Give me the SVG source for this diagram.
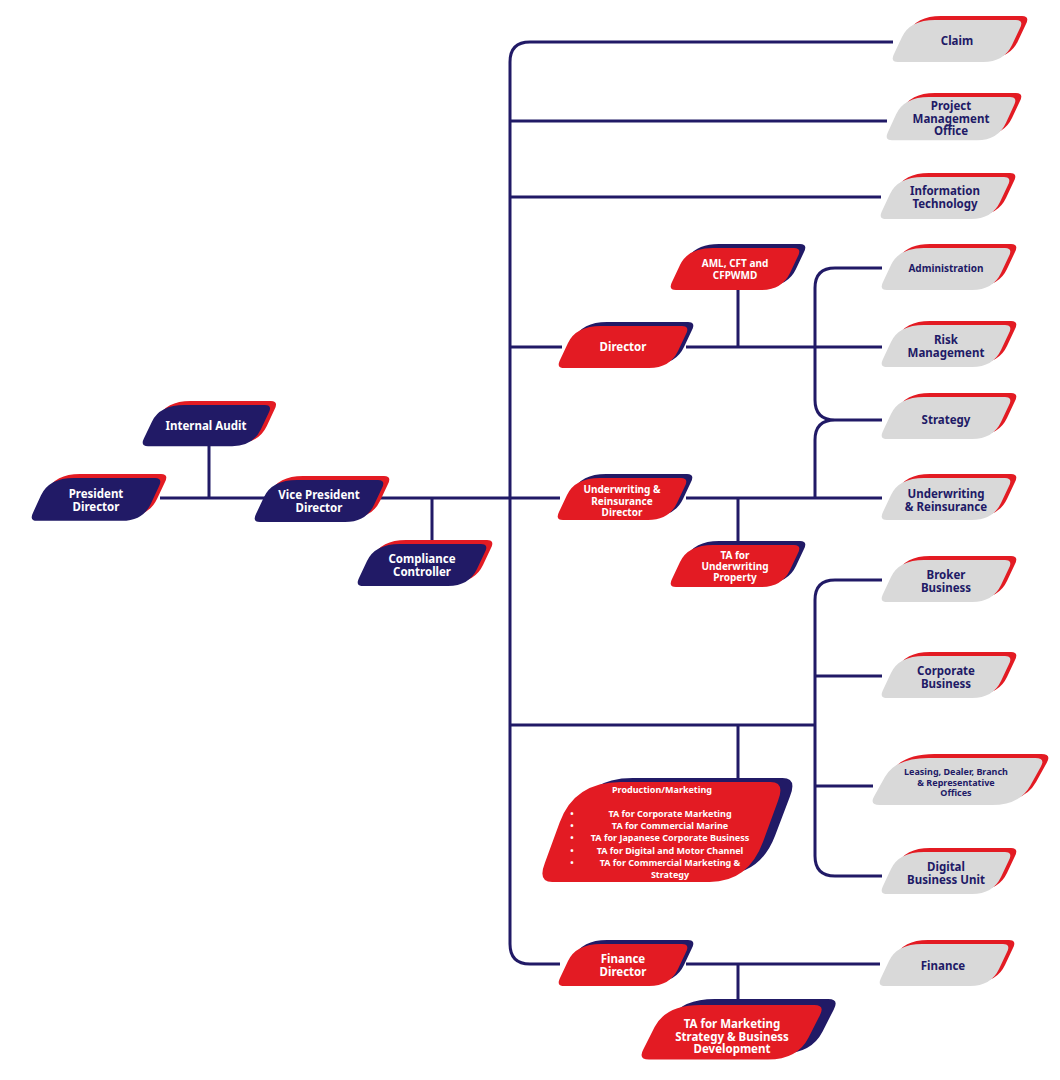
<svg xmlns="http://www.w3.org/2000/svg" xmlns:xlink="http://www.w3.org/1999/xlink" width="1060" height="1080" viewBox="0 0 1060 1080">
<style>
.n{fill:#211A66}.r{fill:#E31B23}.g{fill:#D9D9D9}
text{font-family:"Noto Sans","Open Sans",sans-serif;font-weight:bold;font-size:11.5px;text-anchor:middle}
.tw{fill:#fff}.tn{fill:#211A66}
text.s{font-size:10px}
text.xs{font-size:9px}
#conn path{fill:none;stroke:#211A66;stroke-width:3}
</style>
<defs>
<path id="sh" d="M42 0H123Q131 0 127 8L119 25Q111 42 90 42H5Q-3 42 1 34L9 17Q17 0 42 0Z"/>
</defs>
<rect width="1060" height="1080" fill="#fff"/>
<g id="conn">
<path d="M160 498H560M209 446V498M432 498V544"/>
<path d="M893 42H530Q510 42 510 62V944Q510 964 530 964H560"/>
<path d="M510 121H887M510 197H881M510 347H562M686 347H882M738 290V347"/>
<path d="M882 268H835Q815 268 815 288V400Q815 420 835 420H882M835 420Q815 420 815 440V498"/>
<path d="M686 498H882M738 498V545"/>
<path d="M882 580H835Q815 580 815 600V856Q815 876 835 876H882M815 676H882M815 786H873M510 725H815M738 725V782"/>
<path d="M686 964H880M738 964V1005"/>
</g>
<g id="internal-audit"><use href="#sh" class="r" transform="translate(149 401) scale(0.99 1)"/><use href="#sh" class="n" transform="translate(143 405) scale(0.99 0.98)"/><text class="tw" x="206" y="430">Internal Audit</text></g>
<g id="president"><use href="#sh" class="r" transform="translate(38 474) scale(1 1)"/><use href="#sh" class="n" transform="translate(32 478) scale(1 1.02)"/><text class="tw" x="96" y="498">President<tspan x="96" dy="13">Director</tspan></text></g>
<g id="vp"><use href="#sh" class="r" transform="translate(261 476)"/><use href="#sh" class="n" transform="translate(255 480)"/><text class="tw" x="319" y="499">Vice President<tspan x="319" dy="13">Director</tspan></text></g>
<g id="compliance"><use href="#sh" class="r" transform="translate(364 540)"/><use href="#sh" class="n" transform="translate(358 544)"/><text class="tw" x="422" y="563">Compliance<tspan x="422" dy="13">Controller</tspan></text></g>
<g id="claim"><use href="#sh" class="r" transform="translate(899 16)"/><use href="#sh" class="g" transform="translate(893 20)"/><text class="tn" x="957" y="45">Claim</text></g>
<g id="pmo"><use href="#sh" class="r" transform="translate(893 93)"/><use href="#sh" class="g" transform="translate(887 97) scale(1 1.03)"/><text class="tn" x="951" y="110">Project<tspan x="951" dy="12.5">Management</tspan><tspan x="951" dy="12.5">Office</tspan></text></g>
<g id="it"><use href="#sh" class="r" transform="translate(887 173)"/><use href="#sh" class="g" transform="translate(881 177)"/><text class="tn" x="945" y="195">Information<tspan x="945" dy="12.5">Technology</tspan></text></g>
<g id="aml"><use href="#sh" class="n" transform="translate(677 244)"/><use href="#sh" class="r" transform="translate(671 248)"/><text class="tw s" x="735" y="267">AML, CFT and<tspan x="735" dy="12">CFPWMD</tspan></text></g>
<g id="director"><use href="#sh" class="n" transform="translate(565 322)"/><use href="#sh" class="r" transform="translate(559 326)"/><text class="tw" x="623" y="351">Director</text></g>
<g id="admin"><use href="#sh" class="r" transform="translate(888 244)"/><use href="#sh" class="g" transform="translate(882 248)"/><text class="tn s" x="946" y="272">Administration</text></g>
<g id="risk"><use href="#sh" class="r" transform="translate(888 321)"/><use href="#sh" class="g" transform="translate(882 325)"/><text class="tn" x="946" y="344">Risk<tspan x="946" dy="13">Management</tspan></text></g>
<g id="strategy"><use href="#sh" class="r" transform="translate(888 393)"/><use href="#sh" class="g" transform="translate(882 397)"/><text class="tn" x="946" y="424">Strategy</text></g>
<g id="ur-director"><use href="#sh" class="n" transform="translate(564 474)"/><use href="#sh" class="r" transform="translate(558 478)"/><text class="tw s" x="622" y="493">Underwriting &amp;<tspan x="622" dy="11.5">Reinsurance</tspan><tspan x="622" dy="11.5">Director</tspan></text></g>
<g id="ur"><use href="#sh" class="r" transform="translate(888 474)"/><use href="#sh" class="g" transform="translate(882 478)"/><text class="tn" x="946" y="498">Underwriting<tspan x="946" dy="12.5">&amp; Reinsurance</tspan></text></g>
<g id="ta-uw"><use href="#sh" class="n" transform="translate(677 541)"/><use href="#sh" class="r" transform="translate(671 545)"/><text class="tw s" x="735" y="559">TA for<tspan x="735" dy="11">Underwriting</tspan><tspan x="735" dy="11">Property</tspan></text></g>
<g id="broker"><use href="#sh" class="r" transform="translate(888 556)"/><use href="#sh" class="g" transform="translate(882 560)"/><text class="tn" x="946" y="579">Broker<tspan x="946" dy="12.5">Business</tspan></text></g>
<g id="corporate"><use href="#sh" class="r" transform="translate(888 652)"/><use href="#sh" class="g" transform="translate(882 656)"/><text class="tn" x="946" y="675">Corporate<tspan x="946" dy="12.5">Business</tspan></text></g>
<g id="leasing"><use href="#sh" class="r" transform="translate(879 754) scale(1.32 1.12)"/><use href="#sh" class="g" transform="translate(873 758) scale(1.32 1.12)"/><text class="tn xs" x="956" y="775">Leasing, Dealer, Branch<tspan x="956" dy="10.5">&amp; Representative</tspan><tspan x="956" dy="10.5">Offices</tspan></text></g>
<g id="digital"><use href="#sh" class="r" transform="translate(888 848)"/><use href="#sh" class="g" transform="translate(882 852)"/><text class="tn" x="946" y="871">Digital<tspan x="946" dy="12.5">Business Unit</tspan></text></g>
<g id="production"><use href="#sh" class="n" transform="translate(555 778) scale(1.85 2.3)"/><use href="#sh" class="r" transform="translate(543 782) scale(1.85 2.38)"/>
<text class="tw xs" x="662" y="793">Production/Marketing</text>
<text class="tw xs"><tspan x="670" y="817">TA for Corporate Marketing</tspan><tspan x="670" y="829">TA for Commercial Marine</tspan><tspan x="670" y="841">TA for Japanese Corporate Business</tspan><tspan x="670" y="854">TA for Digital and Motor Channel</tspan><tspan x="670" y="866">TA for Commercial Marketing &amp;</tspan><tspan x="670" y="878">Strategy</tspan></text>
<text class="tw xs"><tspan x="572" y="817">•</tspan><tspan x="572" y="829">•</tspan><tspan x="572" y="841">•</tspan><tspan x="572" y="854">•</tspan><tspan x="572" y="866">•</tspan></text></g>
<g id="finance-director"><use href="#sh" class="n" transform="translate(565 940)"/><use href="#sh" class="r" transform="translate(559 944)"/><text class="tw" x="623" y="963">Finance<tspan x="623" dy="12.5">Director</tspan></text></g>
<g id="finance"><use href="#sh" class="r" transform="translate(886 940)"/><use href="#sh" class="g" transform="translate(880 944)"/><text class="tn" x="943" y="970">Finance</text></g>
<g id="ta-marketing"><use href="#sh" class="n" transform="translate(656 999) scale(1.4 1.3)"/><use href="#sh" class="r" transform="translate(642 1005) scale(1.4 1.3)"/><text class="tw" x="732" y="1028">TA for Marketing<tspan x="732" dy="12.5">Strategy &amp; Business</tspan><tspan x="732" dy="12.5">Development</tspan></text></g>
</svg>
